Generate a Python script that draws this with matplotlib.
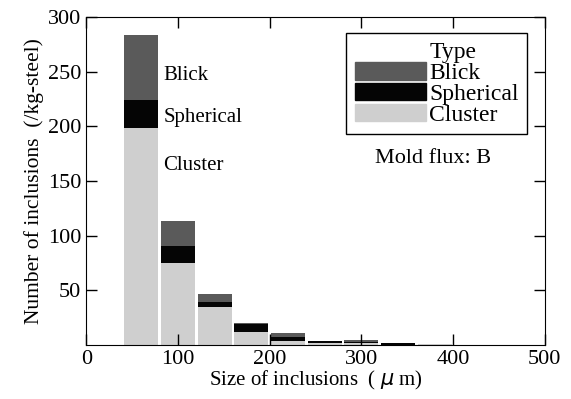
import numpy as np
import matplotlib.pyplot as plt
from matplotlib.patches import Patch

plt.rcParams['font.family'] = ['Liberation Serif', 'DejaVu Serif']

# Size bins (um) and counts per type (/kg-steel)
bin_left = [40, 80, 120, 160, 200, 240, 280, 320, 360]
cluster = [199, 75, 35, 12, 4, 2, 2, 0.5, 1]
spherical = [25, 16, 4, 7, 3, 1.5, 1, 1, 0]
blick = [60, 23, 8, 1.5, 4, 0.5, 1.5, 0, 0]

c_blick = '#5a5a5a'
c_sph = '#050505'
c_clu = '#cfcfcf'

if __name__ == "__main__":
    fig = plt.figure(figsize=(5.71, 3.99), dpi=100)
    ax = fig.add_axes([0.151, 0.135, 0.803, 0.822])

    x = np.array(bin_left) + 1.5
    w = 37
    cl = np.array(cluster)
    sp = np.array(spherical)
    bl = np.array(blick)
    ax.bar(x, cl, width=w, align='edge', color=c_clu, linewidth=0)
    ax.bar(x, sp, width=w, bottom=cl, align='edge', color=c_sph, linewidth=0)
    ax.bar(x, bl, width=w, bottom=cl + sp, align='edge', color=c_blick, linewidth=0)

    ax.text(84, 247, 'Blick', fontsize=15, va='center')
    ax.text(84, 208, 'Spherical', fontsize=15, va='center')
    ax.text(84, 164, 'Cluster', fontsize=15, va='center')

    # first entry is the "Type" heading, aligned with the labels
    handles = [Patch(color='none'), Patch(color=c_blick), Patch(color=c_sph),
               Patch(color=c_clu)]
    leg = ax.legend(handles, ['Type', 'Blick', 'Spherical', 'Cluster'],
                    loc='upper right', bbox_to_anchor=(0.961, 0.951),
                    fontsize=17, fancybox=False,
                    edgecolor='black', framealpha=1, handlelength=3.0,
                    handleheight=0.76, handletextpad=0.15, labelspacing=-0.05,
                    borderpad=0.35, borderaxespad=0)
    leg.get_frame().set_linewidth(1.0)
    ax.text(0.756, 0.568, 'Mold flux: B', transform=ax.transAxes,
            fontsize=16, ha='center', va='center')

    ax.set_xlim(0, 500)
    ax.set_ylim(0, 300)
    ax.set_xticks([0, 100, 200, 300, 400, 500])
    ax.set_yticks([50, 100, 150, 200, 250, 300])
    ax.tick_params(direction='in', top=True, right=True, labelsize=16,
                   length=8, width=1)
    ax.set_xlabel('Size of inclusions  ( $\\mu$ m)', fontsize=15, labelpad=0)
    ax.set_ylabel('Number of inclusions  (/kg-steel)', fontsize=15.5, labelpad=3)

    fig.savefig('out.png', dpi=100)
